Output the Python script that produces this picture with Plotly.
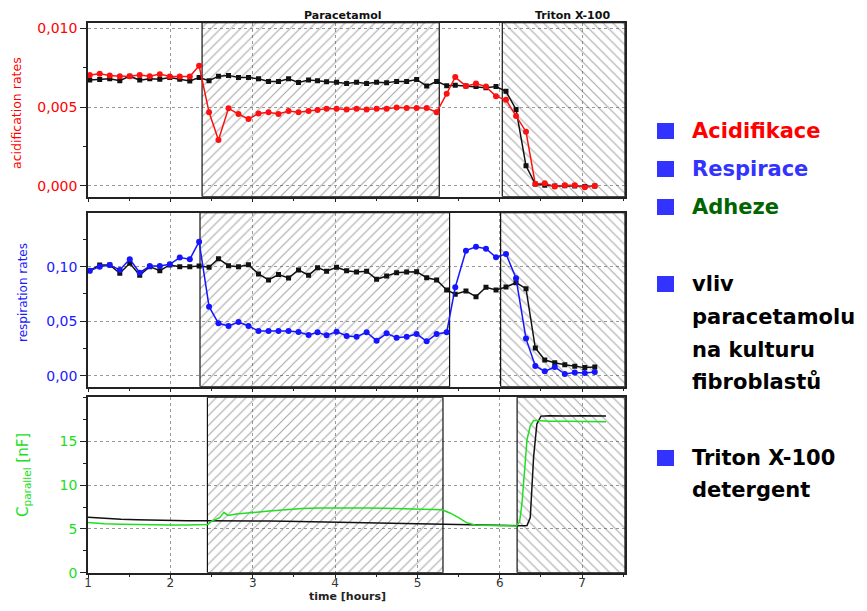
import plotly.graph_objects as go

# ---------------- data ----------------
t_rates = [1.021, 1.142, 1.264, 1.386, 1.507, 1.628, 1.750, 1.872, 1.993, 2.114, 2.236, 2.349,
           2.470, 2.584, 2.706, 2.827, 2.949, 3.070, 3.192, 3.313, 3.435, 3.556, 3.678, 3.787,
           3.897, 4.018, 4.140, 4.261, 4.383, 4.504, 4.626, 4.747, 4.869, 4.990, 5.112, 5.233,
           5.355, 5.459, 5.589, 5.711, 5.832, 5.954, 6.075, 6.197, 6.318, 6.431, 6.546, 6.667,
           6.789, 6.910, 7.032, 7.153]

acid_treated = [0.00703, 0.00711, 0.00701, 0.00696, 0.00696, 0.00703, 0.00696, 0.00709, 0.00694, 0.00694,
                0.00694, 0.00762, 0.00467, 0.00291, 0.00492, 0.00456, 0.00424, 0.00460, 0.00468, 0.00456,
                0.00475, 0.00467, 0.00475, 0.00481, 0.00489, 0.00489, 0.00485, 0.00489, 0.00485, 0.00489,
                0.00489, 0.00498, 0.00494, 0.00494, 0.00494, 0.00467, 0.00585, 0.00690, 0.00633, 0.00650,
                0.00630, 0.00568, 0.00546, 0.00443, 0.00344, 0.00012, 0.00017, -0.00004, 0.00004, 0.00004,
                -0.00008, 0.00000]
acid_control = [0.00671, 0.00675, 0.00679, 0.00667, 0.00696, 0.00671, 0.00679, 0.00677, 0.00688, 0.00677,
                0.00665, 0.00688, 0.00667, 0.00696, 0.00701, 0.00688, 0.00688, 0.00679, 0.00663, 0.00663,
                0.00679, 0.00656, 0.00671, 0.00667, 0.00660, 0.00658, 0.00650, 0.00658, 0.00650, 0.00658,
                0.00654, 0.00663, 0.00663, 0.00675, 0.00633, 0.00663, 0.00636, 0.00638, 0.00634, 0.00630,
                0.00622, 0.00630, 0.00600, 0.00485, 0.00128, 0.00012, 0.00005, 0.00000, 0.00002, 0.00000,
                -0.00003, 0.00000]

resp_treated = [0.0963, 0.1000, 0.1016, 0.0970, 0.1068, 0.0945, 0.1006, 0.1006, 0.1022, 0.1083,
                0.1068, 0.1229, 0.0633, 0.0481, 0.0456, 0.0493, 0.0456, 0.0410, 0.0410, 0.0410,
                0.0410, 0.0401, 0.0373, 0.0398, 0.0370, 0.0404, 0.0364, 0.0358, 0.0398, 0.0321,
                0.0389, 0.0349, 0.0358, 0.0383, 0.0315, 0.0383, 0.0398, 0.0811, 0.1147, 0.1183,
                0.1165, 0.1086, 0.1117, 0.0893, 0.0340, 0.0089, 0.0040, 0.0080, 0.0015, 0.0030,
                0.0025, 0.0034]
resp_control = [0.0963, 0.1016, 0.1016, 0.0939, 0.1031, 0.0921, 0.1000, 0.0963, 0.1016, 0.1000,
                0.1000, 0.1006, 0.0994, 0.1073, 0.1009, 0.1000, 0.1018, 0.0933, 0.0878, 0.0927,
                0.0896, 0.0970, 0.0921, 0.0991, 0.0958, 0.0994, 0.0963, 0.0951, 0.0958, 0.0884,
                0.0914, 0.0945, 0.0951, 0.0954, 0.0899, 0.0878, 0.0786, 0.0747, 0.0777, 0.0725,
                0.0811, 0.0786, 0.0814, 0.0853, 0.0798, 0.0254, 0.0144, 0.0119, 0.0101, 0.0086,
                0.0074, 0.0080]

t_cap = [1.0, 1.2, 1.4, 1.6, 1.8, 2.0, 2.2, 2.4, 2.45, 2.5, 2.55, 2.6, 2.65, 2.7, 2.8,
         3.0, 3.2, 3.4, 3.6, 3.8, 4.0, 4.2, 4.4, 4.6, 4.8, 5.0, 5.2, 5.3, 5.35, 5.4, 5.5,
         5.6, 5.7, 5.8, 6.0, 6.2, 6.24, 6.27, 6.30, 6.33, 6.37, 6.41, 6.45, 6.50, 6.6, 6.8,
         7.0, 7.29]
cap_treated = [5.75, 5.6, 5.55, 5.5, 5.45, 5.45, 5.45, 5.45, 5.5, 5.9, 6.1, 6.3, 6.9, 6.55, 6.7,
               6.9, 7.05, 7.2, 7.35, 7.4, 7.42, 7.4, 7.4, 7.38, 7.35, 7.3, 7.25, 7.2, 7.0, 6.8, 6.3,
               5.7, 5.45, 5.4, 5.38, 5.35, 5.8, 8.0, 11.5, 15.2, 16.8, 17.4, 17.4, 17.35, 17.3, 17.3,
               17.3, 17.25]
cap_control = [6.34, 6.2, 6.1, 6.05, 6.0, 5.97, 5.95, 5.95, 5.95, 5.98, 5.95, 5.97, 5.95, 5.95, 5.95,
               5.93, 5.9, 5.87, 5.83, 5.8, 5.77, 5.73, 5.69, 5.65, 5.6, 5.56, 5.52, 5.5, 5.5, 5.48, 5.47,
               5.45, 5.43, 5.42, 5.4, 5.38, 5.38, 5.38, 5.38, 5.4, 6.3, 13.2, 17.0, 17.9, 17.95, 17.9,
               17.95, 17.9]

# treatment windows per panel (hours)
para_start = [2.385, 2.36, 2.45]
para_end = [5.265, 5.39, 5.31]
triton_start = [6.03, 6.01, 6.21]
x_range = [1.0, 7.52]
y_ranges = [[-0.00068, 0.01035], [-0.0101, 0.1495], [0.0, 20.05]]

y_tickvals = [[0.0, 0.005, 0.010], [0.0, 0.05, 0.10], [0, 5, 10, 15]]
y_ticktext = [["0,000", "0,005", "0,010"], ["0,00", "0,05", "0,10"], ["0", "5", "10", "15"]]
y_minor = [0.0025, 0.025, 2.5]
x_tickvals = [1, 2, 3, 4, 5, 6, 7]

legend_lines = [
    ("Acidifikace", "#FF0000", True, 131),
    ("Respirace", "#3333FF", True, 169),
    ("Adheze", "#006400", True, 207),
    ("vliv", "#000000", True, 284),
    ("paracetamolu", "#000000", False, 317),
    ("na kulturu", "#000000", False, 350),
    ("fibroblastů", "#000000", False, 382),
    ("Triton X-100", "#000000", True, 458),
    ("detergent", "#000000", False, 490),
]

# ---------------- figure ----------------
# page body has an 8 px margin: the figure is shrunk and positions offset accordingly
OFF = 8
W, H = 867 - 2 * OFF, 611 - 2 * OFF
FONT = "DejaVu Sans"


def px(x):
    return (x - OFF) / W


def py(y):
    return 1 - (y - OFF) / H


fig = go.Figure()

x_dom = [px(88), px(625)]
y_doms = [[py(196.7), py(22.7)], [py(386.7), py(212.7)], [py(572.7), py(397.3)]]
tick_colors = ["#FF0000", "#1a1aff", "#22DD22"]

for i in range(3):
    xa = "x" if i == 0 else f"x{i+1}"
    ya = "y" if i == 0 else f"y{i+1}"
    y0, y1 = y_ranges[i]
    # paracetamol (/) and Triton (\) hatched windows
    for xs, xe, shp in [(para_start[i], para_end[i], "/"), (triton_start[i], x_range[1], "\\")]:
        fig.add_trace(go.Scatter(
            x=[xs, xe, xe, xs, xs], y=[y0, y0, y1, y1, y0], xaxis=xa, yaxis=ya,
            mode="lines", fill="toself", fillcolor="rgba(0,0,0,0)",
            fillpattern=dict(shape=shp, size=7, solidity=0.17, fgcolor="#555555", bgcolor="rgba(0,0,0,0)"),
            line=dict(color="#111111", width=1.2), hoverinfo="skip", showlegend=False))

# top: acidification
fig.add_trace(go.Scatter(x=t_rates, y=acid_control, xaxis="x", yaxis="y", mode="lines+markers",
                         line=dict(color="#111111", width=1.5),
                         marker=dict(symbol="square", size=5, color="#111111")))
fig.add_trace(go.Scatter(x=t_rates, y=acid_treated, xaxis="x", yaxis="y", mode="lines+markers",
                         line=dict(color="#FF1010", width=1.5),
                         marker=dict(symbol="circle", size=6, color="#FF1010")))
# middle: respiration
fig.add_trace(go.Scatter(x=t_rates, y=resp_control, xaxis="x2", yaxis="y2", mode="lines+markers",
                         line=dict(color="#111111", width=1.5),
                         marker=dict(symbol="square", size=5, color="#111111")))
fig.add_trace(go.Scatter(x=t_rates, y=resp_treated, xaxis="x2", yaxis="y2", mode="lines+markers",
                         line=dict(color="#1515FF", width=1.5),
                         marker=dict(symbol="circle", size=6, color="#1515FF")))
# bottom: capacitance
fig.add_trace(go.Scatter(x=t_cap, y=cap_control, xaxis="x3", yaxis="y3", mode="lines",
                         line=dict(color="#111111", width=1.5)))
fig.add_trace(go.Scatter(x=t_cap, y=cap_treated, xaxis="x3", yaxis="y3", mode="lines",
                         line=dict(color="#22DD22", width=1.5)))

layout = dict(width=W, height=H, margin=dict(l=0, r=0, t=0, b=0, autoexpand=False),
              paper_bgcolor="white", plot_bgcolor="white", showlegend=False,
              font=dict(family=FONT, color="#222222"))

for i in range(3):
    xk = "xaxis" if i == 0 else f"xaxis{i+1}"
    yk = "yaxis" if i == 0 else f"yaxis{i+1}"
    xa = "x" if i == 0 else f"x{i+1}"
    ya = "y" if i == 0 else f"y{i+1}"
    layout[xk] = dict(domain=x_dom, anchor=ya, range=x_range, tickvals=x_tickvals,
                      showticklabels=(i == 2), ticks="outside", ticklen=4, tickwidth=1.2,
                      ticklabelstandoff=-6,
                      tickcolor="#222222", showline=True, mirror=True, linecolor="#222222",
                      linewidth=1.5, showgrid=True, gridcolor="#9a9a9a", griddash="dot",
                      gridwidth=1, zeroline=False,
                      tickfont=dict(family=FONT, size=12, color="#333333"),
                      minor=dict(dtick=0.5, tick0=1, ticks="outside", ticklen=3,
                                 tickcolor="#222222", showgrid=False))
    layout[yk] = dict(domain=y_doms[i], anchor=xa, range=y_ranges[i], tickvals=y_tickvals[i],
                      ticktext=y_ticktext[i], ticks="outside", ticklen=6, tickwidth=1.2,
                      tickcolor="#222222", showline=True, mirror=True, linecolor="#222222",
                      linewidth=1.5, showgrid=True, gridcolor="#9a9a9a", griddash="dot",
                      gridwidth=1, zeroline=False,
                      tickfont=dict(family=FONT, size=14, color=tick_colors[i]),
                      minor=dict(dtick=y_minor[i], tick0=0, ticks="outside", ticklen=3,
                                 tickcolor="#222222", showgrid=False))

fig.update_layout(**layout)


def note(text, x, y, size, color, angle=0, xanchor="center"):
    return dict(text=text, x=px(x), y=py(y), xref="paper", yref="paper", showarrow=False,
                xanchor=xanchor, yanchor="middle", textangle=angle,
                font=dict(family=FONT, size=size, color=color))


ann = [
    note("<b>Paracetamol</b>", 343, 16, 11, "#111111"),
    note("<b>Triton X-100</b>", 572, 16, 11, "#111111"),
    note("acidification rates", 16, 113, 12.5, "#FF0000", -90),
    note("respiration rates", 23, 293, 12, "#1a1aff", -90),
    note("C<sub>parallel</sub> [nF]", 23, 475, 15, "#22DD22", -90),
    note("<b>time [hours]</b>", 347, 596, 11, "#222222"),
]

shapes = []
for txt, col, bullet, yc in legend_lines:
    ann.append(note(f"<b>{txt}</b>", 690, yc, 21, col, xanchor="left"))
    if bullet:
        shapes.append(dict(type="rect", xref="paper", yref="paper",
                           x0=px(657), x1=px(674), y0=py(yc + 8), y1=py(yc - 8),
                           fillcolor="#3333FF", line=dict(width=0)))

fig.update_layout(annotations=ann, shapes=shapes)
fig.write_html("out.html")
